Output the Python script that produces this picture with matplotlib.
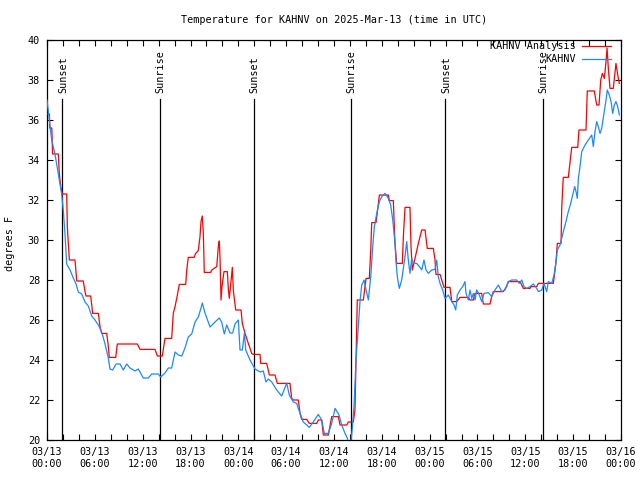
import matplotlib
matplotlib.use("Agg")
import matplotlib.pyplot as plt
from matplotlib.ticker import MultipleLocator

plt.rcParams['font.family'] = ['DejaVu Sans Mono']
plt.rcParams['font.size'] = 7.3

# hours since 2025-03-13 00:00 UTC
obs_hours = [0.0, 0.29, 0.59, 1.0, 1.42, 1.84, 2.04, 2.26, 2.47, 2.89, 3.30, 3.64, 3.93, 4.35, 4.77,
             5.18, 5.61, 6.02, 6.44, 6.86, 7.28, 7.69, 7.90, 8.24, 8.66, 9.16, 9.57, 10.0, 10.41, 11.04,
             11.45, 12.08, 12.71, 13.13, 13.96, 14.26, 14.80, 15.22, 15.64, 16.06, 16.47, 16.90, 17.31,
             17.72, 18.15, 18.57, 18.98, 19.32, 19.48, 19.82, 20.45, 21.07, 21.61, 21.91, 22.24, 22.54,
             22.96, 23.29, 23.58, 24.0, 24.21, 24.50, 24.76, 24.93, 25.46, 26.09, 26.72, 27.13, 27.47,
             27.76, 28.19, 28.81, 29.44, 30.07, 30.39, 30.90, 31.32, 31.74, 32.15, 32.58, 32.90, 33.40,
             34.03, 34.46, 34.78, 35.29, 35.71, 36.13, 36.63, 36.97, 37.38, 37.67, 37.92, 38.07, 38.30,
             38.51, 38.76, 39.05, 39.26, 39.48, 39.77, 40.02, 40.31, 40.61, 40.86, 41.06, 41.36, 41.69,
             41.99, 42.40, 42.81, 43.11, 43.37, 43.53, 43.65, 43.78, 43.94, 44.19, 44.49, 44.70, 44.91,
             45.12, 45.32, 45.53, 45.75, 45.95, 46.37, 46.79, 47.0, 47.29, 47.54, 47.83, 48.26, 48.67,
             48.88, 49.08, 49.30, 49.63, 49.92, 50.34, 50.77, 51.05, 51.27, 51.47, 51.81, 52.15, 52.43,
             52.56, 52.85, 53.06, 53.28, 53.48, 53.69, 53.90, 54.23, 54.53, 54.82, 55.36, 55.78, 56.20,
             56.61, 57.04, 57.45, 57.87, 58.29, 58.92, 59.25, 59.55, 59.83, 60.17, 60.59, 61.0, 61.43,
             61.63, 62.05, 62.34, 62.68, 62.88, 63.31, 63.60, 63.85, 64.01, 64.35, 64.56, 64.76, 65.10,
             65.39, 65.69, 65.94, 66.19, 66.36, 66.52, 66.65, 66.86, 67.07, 67.49, 67.90, 68.33, 68.53,
             68.74, 68.95, 69.15, 69.37, 69.58, 69.87, 70.12, 70.28, 70.53, 70.75, 70.96, 71.16, 71.37,
             71.59, 71.79]
obs_temps = [37.0, 36.0, 35.0, 34.3, 33.3, 32.3, 31.5, 30.3, 28.8, 28.5, 28.1, 27.8, 27.4, 27.3, 26.9,
             26.7, 26.2, 26.0, 25.75, 25.4, 24.8, 24.1, 23.55, 23.5, 23.8, 23.8, 23.5, 23.8, 23.6, 23.45,
             23.55, 23.1, 23.1, 23.3, 23.3, 23.15, 23.35, 23.6, 23.6, 24.4, 24.25, 24.2, 24.6,
             25.15, 25.3, 25.9, 26.15, 26.6, 26.85, 26.35, 25.65, 25.9, 26.1, 25.9, 25.3, 25.75,
             25.35, 25.35, 25.8, 26.0, 24.5, 24.5, 25.35, 24.5, 24.0, 23.55, 23.4, 23.45, 22.9,
             23.05, 22.9, 22.5, 22.2, 22.85, 22.25, 21.9, 21.83, 21.33, 20.9, 20.75, 20.63, 20.9,
             21.28, 21.0, 20.33, 20.33, 20.83, 21.58, 21.25, 20.75, 20.33, 20.1, 19.6, 19.7, 20.6,
             21.67, 24.0, 25.67, 26.92, 27.75, 28.0, 27.5, 27.0, 28.17, 29.67, 30.67, 31.33, 31.92,
             32.17, 32.33, 32.08, 31.75, 31.0, 30.33, 29.83, 28.92, 28.17, 27.58, 28.0, 28.58, 29.17,
             29.92, 29.0, 28.33, 29.08, 28.83, 28.83, 28.63, 28.5, 29.0, 28.5, 28.33, 28.5, 28.53,
             29.0, 28.17, 27.83, 27.5, 27.08, 27.25, 26.92, 26.75, 26.5, 27.25, 27.5, 27.67, 27.92,
             27.33, 27.0, 27.5, 27.08, 27.33, 27.0, 27.5, 27.25, 26.92, 27.33, 27.37, 27.17, 27.5,
             27.75, 27.42, 27.5, 27.92, 28.0, 28.0, 27.83, 28.0, 27.67, 27.58, 27.67, 27.8, 27.58,
             27.42, 27.5, 27.83, 27.42, 27.92, 27.83, 28.25, 28.92, 29.5, 29.75, 30.08, 30.42, 30.92,
             31.42, 31.83, 32.25, 32.67, 32.42, 32.08, 33.08, 33.67, 34.42, 34.75, 35.0, 35.25, 34.67,
             35.42, 35.92, 35.67, 35.33, 35.58, 36.33, 37.0, 37.5, 37.25, 36.92, 36.33, 36.75, 36.92,
             36.67, 36.25]

ana_hours = [0.0, 0.3, 0.35, 0.6, 0.7, 1.42, 1.54, 1.72, 1.92, 2.47, 2.55, 2.80, 3.51, 3.73, 4.55,
             4.77, 4.89, 5.48, 5.73, 6.44, 6.65, 6.86, 7.49, 7.69, 7.81, 8.62, 8.82, 11.33, 11.67,
             13.55, 13.84, 14.46, 14.80, 15.64, 15.84, 16.06, 16.27, 16.60, 17.40, 17.53, 17.72,
             18.44, 18.65, 18.98, 19.19, 19.32, 19.48, 19.61, 19.73, 20.53, 20.66, 21.29, 21.49,
             21.61, 21.70, 21.83, 21.95, 22.20, 22.62, 22.74, 22.87, 23.04, 23.25, 23.37, 23.67,
             24.34, 24.50, 24.84, 25.25, 25.68, 25.88, 26.72, 26.81, 27.56, 27.89, 28.60, 28.89,
             30.48, 30.69, 30.90, 31.52, 31.74, 31.95, 32.58, 32.90, 33.83, 34.03, 34.46, 34.66,
             35.29, 35.71, 36.54, 36.76, 37.60, 37.80, 38.42, 38.63, 38.76, 38.92, 39.68, 40.02,
             40.43, 40.61, 40.73, 41.27, 41.43, 41.69, 42.81, 42.94, 43.44, 43.65, 43.86, 44.57,
             44.70, 44.91, 45.53, 45.66, 45.82, 46.16, 46.58, 47.0, 47.42, 47.70, 48.46, 48.67,
             48.79, 49.30, 49.51, 49.80, 50.55, 50.77, 51.39, 51.81, 52.85, 53.06, 53.48, 53.69,
             54.53, 54.73, 55.57, 55.78, 55.98, 57.24, 57.66, 57.87, 59.34, 59.75, 60.59, 60.71,
             61.43, 61.63, 63.51, 63.73, 63.85, 64.01, 64.48, 64.56, 64.76, 65.39, 65.61, 65.82,
             66.57, 66.73, 67.61, 67.77, 68.65, 68.95, 69.24, 69.46, 69.66, 69.91, 70.12, 70.25,
             70.41, 70.62, 71.03, 71.25, 71.37, 71.59, 71.79]
ana_temps = [36.3, 36.3, 35.6, 35.6, 34.3, 34.3, 33.33, 32.67, 32.3, 32.3, 30.67, 29.0, 29.0, 27.95, 27.95,
             27.42, 27.2, 27.2, 26.33, 26.33, 25.67, 25.33, 25.33, 24.7, 24.13, 24.13, 24.8, 24.8, 24.53,
             24.53, 24.2, 24.2, 25.08, 25.08, 26.33, 26.67, 27.08, 27.78, 27.78, 28.5, 29.13,
             29.13, 29.33, 29.47, 30.17, 30.92, 31.2, 30.33, 28.38, 28.38, 28.5, 28.67, 29.67,
             29.95, 29.17, 27.0, 27.67, 28.42, 28.42, 27.58, 27.08, 27.75, 28.63, 27.5, 26.5,
             26.5, 25.83, 25.33, 24.83, 24.33, 24.28, 24.28, 23.83, 23.83, 23.25, 23.25, 22.83,
             22.83, 22.08, 22.0, 22.0, 21.33, 21.03, 21.03, 20.83, 20.83, 21.0, 21.0, 20.25,
             20.25, 21.17, 21.17, 20.75, 20.75, 20.9, 20.9, 21.5, 23.92, 27.0, 27.0, 28.08,
             28.08, 29.5, 30.87, 30.87, 31.37, 32.25, 32.25, 31.97, 31.97, 29.83, 28.83, 28.83,
             30.17, 31.63, 31.63, 29.67, 28.5, 29.08, 29.83, 30.5, 30.5, 29.58, 29.58, 29.0,
             28.28, 28.28, 28.0, 27.63, 27.63, 26.92, 26.92, 27.13, 27.13, 27.0, 27.0, 27.33,
             27.33, 26.8, 26.8, 27.17, 27.42, 27.42, 27.67, 27.92, 27.92, 27.58, 27.58, 27.67,
             27.67, 27.83, 27.83, 28.5, 28.92, 29.83, 29.83, 31.58, 33.13, 33.13, 33.92, 34.63,
             34.63, 35.5, 35.5, 37.45, 37.45, 36.75, 36.75, 38.0, 38.33, 38.08, 38.92, 39.6,
             38.58, 37.58, 37.58, 38.42, 38.83, 38.25, 37.83]

sun_hours = [1.9, 14.15, 25.95, 38.1, 49.95, 62.2]
sun_labels = ["Sunset", "Sunrise", "Sunset", "Sunrise", "Sunset", "Sunrise"]

tick_hours = list(range(0, 73, 6))
tick_labels = ["03/13\n00:00", "03/13\n06:00", "03/13\n12:00", "03/13\n18:00",
               "03/14\n00:00", "03/14\n06:00", "03/14\n12:00", "03/14\n18:00",
               "03/15\n00:00", "03/15\n06:00", "03/15\n12:00", "03/15\n18:00",
               "03/16\n00:00"]

fig = plt.figure(figsize=(6.4, 4.8), dpi=100)
ax = fig.add_axes([47/640, 1 - 440/480, 574/640, 400/480])

ax.plot(ana_hours, ana_temps, color='#ff0000', lw=0.9, label='KAHNV Analysis', zorder=3)
ax.plot(obs_hours, obs_temps, color='#1e88ff', lw=0.9, label='KAHNV', zorder=3)

line_top = 37.05
for h, lab in zip(sun_hours, sun_labels):
    ax.plot([h, h], [20, line_top], color='black', lw=0.9, zorder=2)
    ax.text(h + 0.1, 37.35, lab, rotation=90, ha='center', va='bottom', zorder=4)

ax.set_xlim(0, 72)
ax.set_ylim(20, 40)
ax.set_xticks(tick_hours)
ax.set_xticklabels(tick_labels)
ax.xaxis.set_minor_locator(MultipleLocator(2))
ax.yaxis.set_major_locator(MultipleLocator(2))
ax.tick_params(axis='both', which='both', direction='in', top=True, right=True,
               length=4, width=0.8, color='black')
ax.tick_params(axis='x', which='major', pad=5)
ax.tick_params(axis='y', which='major', pad=5)
for sp in ax.spines.values():
    sp.set_linewidth(0.9)

ax.set_title("Temperature for KAHNV on 2025-Mar-13 (time in UTC)", pad=12, fontsize=7.3)
ax.set_ylabel("degrees F")
ax.yaxis.set_label_coords(-0.0557, 0.4925)

ax.legend(loc='upper right', bbox_to_anchor=(0.983, 0.997), frameon=False, markerfirst=False,
          handlelength=2.9, handletextpad=0.6, labelspacing=0.3, borderaxespad=0, borderpad=0)

fig.savefig("out.png", dpi=100)
